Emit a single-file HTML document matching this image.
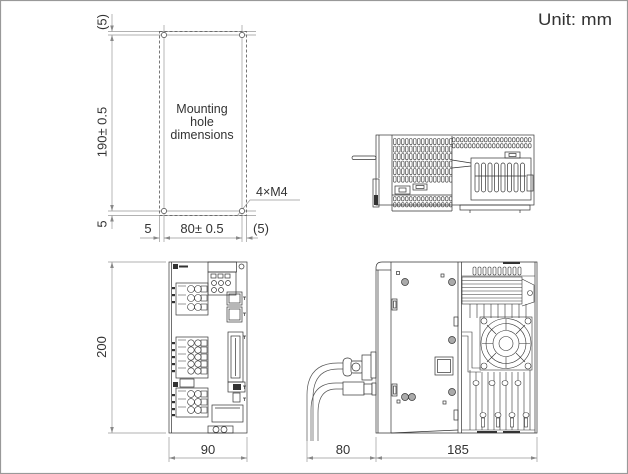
<!DOCTYPE html>
<html><head><meta charset="utf-8">
<style>
html,body{margin:0;padding:0;background:#fff}
svg{display:block}
text{font-family:"Liberation Sans",Arial,sans-serif;fill:#333}
</style></head>
<body>
<svg width="628" height="474" viewBox="0 0 628 474" xmlns="http://www.w3.org/2000/svg">
<defs>
<pattern id="vent" x="393" y="138" width="4" height="7.5" patternUnits="userSpaceOnUse"><rect x="0.5" y="0.5" width="2.6" height="6.2" rx="1.2" fill="none" stroke="#333" stroke-width="0.6"/></pattern>
<pattern id="oval" x="392" y="137" width="4" height="6" patternUnits="userSpaceOnUse"><rect x="0.5" y="0.7" width="2.6" height="4.2" rx="1.2" fill="none" stroke="#333" stroke-width="0.6"/></pattern>
<pattern id="oval2" x="393" y="196" width="4" height="6" patternUnits="userSpaceOnUse"><rect x="0.5" y="0.7" width="2.6" height="4.2" rx="1.2" fill="none" stroke="#333" stroke-width="0.6"/></pattern>
</defs>
<rect x="0.5" y="0.5" width="627" height="473" fill="#fff" stroke="#999" stroke-width="1.2"/>

<text x="538" y="25" font-size="17" textLength="74" lengthAdjust="spacingAndGlyphs">Unit: mm</text>

<!-- ========== Mounting hole dimensions ========== -->
<g stroke="#999" stroke-width="0.7" fill="none">
<line x1="108" y1="31.5" x2="256" y2="31.5"/>
<line x1="108" y1="35" x2="256" y2="35"/>
<line x1="108" y1="211" x2="256" y2="211"/>
<line x1="108" y1="215.5" x2="256" y2="215.5"/>
<line x1="164" y1="25" x2="164" y2="242"/>
<line x1="242" y1="25" x2="242" y2="242"/>
<line x1="159.5" y1="216" x2="159.5" y2="242"/>
<line x1="246.5" y1="216" x2="246.5" y2="242"/>
<line x1="112" y1="14" x2="112" y2="31.5"/>
<line x1="112" y1="35" x2="112" y2="211"/>
<line x1="112" y1="215.5" x2="112" y2="229"/>
<line x1="140" y1="238" x2="159.5" y2="238"/>
<line x1="164" y1="238" x2="242" y2="238"/>
<line x1="246.5" y1="238" x2="258" y2="238"/>
<polyline points="237,216 250,200 300,200"/>
</g>
<g fill="#888">
<polygon points="112,31.5 110.2,25.5 113.8,25.5"/>
<polygon points="112,35 110.2,41 113.8,41"/>
<polygon points="112,211 110.2,205 113.8,205"/>
<polygon points="112,215.5 110.2,221.5 113.8,221.5"/>
<polygon points="159.5,238 153.5,236.2 153.5,239.8"/>
<polygon points="164,238 170,236.2 170,239.8"/>
<polygon points="242,238 236,236.2 236,239.8"/>
<polygon points="246.5,238 252.5,236.2 252.5,239.8"/>
</g>
<rect x="159.5" y="31.5" width="87" height="184" fill="none" stroke="#555" stroke-width="0.8" stroke-dasharray="3,2"/>
<g fill="#fff" stroke="#444" stroke-width="0.7">
<circle cx="164" cy="35" r="2.6"/><circle cx="242" cy="35" r="2.6"/>
<circle cx="164" cy="211" r="2.6"/><circle cx="242" cy="211" r="2.6"/>
</g>
<g font-size="13" text-anchor="middle">
<text transform="translate(106.5,22) rotate(-90)">(5)</text>
<text transform="translate(106.5,132) rotate(-90)">190± 0.5</text>
<text transform="translate(106.5,224) rotate(-90)">5</text>
<text x="148" y="233">5</text>
<text x="202" y="233">80± 0.5</text>
<text x="261" y="233">(5)</text>
</g>
<g font-size="12.5" text-anchor="middle">
<text x="202" y="113">Mounting</text>
<text x="202" y="126">hole</text>
<text x="202" y="139">dimensions</text>
</g>
<text x="256" y="196" font-size="12.5">4×M4</text>

<!-- ========== Top view ========== -->
<g stroke="#333" stroke-width="0.7" fill="none">
<rect x="352" y="156" width="24" height="3.6" rx="1.8"/>
<rect x="376" y="135" width="158" height="70"/>
<line x1="392" y1="135" x2="392" y2="211"/>
<line x1="379" y1="135" x2="379" y2="178"/>
<rect x="393" y="138" width="59" height="45" fill="url(#vent)" stroke="none"/>
<rect x="452" y="137" width="80" height="12" fill="url(#oval)" stroke="none"/>
<line x1="452" y1="136" x2="452" y2="211"/>
<rect x="505" y="152" width="15" height="6"/>
<rect x="509" y="153.5" width="7" height="3"/>
<rect x="471" y="158" width="60" height="42"/>
<rect x="475" y="163" width="4" height="29" rx="2"/>
<rect x="481.5" y="163" width="4" height="29" rx="2"/>
<rect x="488" y="163" width="4" height="29" rx="2"/>
<rect x="494.5" y="163" width="4" height="29" rx="2"/>
<rect x="501" y="163" width="4" height="29" rx="2"/>
<rect x="507.5" y="163" width="4" height="29" rx="2"/>
<rect x="514" y="163" width="4" height="29" rx="2"/>
<rect x="520.5" y="163" width="4" height="29" rx="2"/>
<line x1="475" y1="176" x2="526" y2="176"/>
<line x1="452" y1="160" x2="471" y2="163"/>
<line x1="452" y1="168" x2="471" y2="166"/>
<rect x="527" y="175" width="6" height="16"/>
<rect x="395" y="186" width="15" height="8"/>
<rect x="399" y="188" width="7" height="4"/>
<rect x="413" y="184" width="14" height="6"/>
<rect x="416" y="185.5" width="8" height="3"/>
<rect x="393" y="196" width="59" height="12" fill="url(#oval2)" stroke="none"/>
<line x1="392" y1="195" x2="452" y2="195"/>
<line x1="392" y1="211" x2="452" y2="211"/>
<rect x="460" y="205" width="70" height="5"/>
<line x1="470" y1="210" x2="470" y2="213"/>
<line x1="520" y1="210" x2="520" y2="213"/>
<rect x="373" y="179" width="6" height="28"/>
</g>
<rect x="374" y="195" width="4" height="10" fill="#333"/>

<!-- ========== Front view ========== -->
<g stroke="#999" stroke-width="0.7" fill="none">
<line x1="112" y1="262" x2="112" y2="433"/>
<line x1="108" y1="262" x2="166" y2="262"/>
<line x1="108" y1="433" x2="166" y2="433"/>
<line x1="169" y1="437" x2="169" y2="462"/>
<line x1="247" y1="437" x2="247" y2="462"/>
<line x1="169" y1="458" x2="247" y2="458"/>
</g>
<g fill="#888">
<polygon points="112,262 110.2,268 113.8,268"/>
<polygon points="112,433 110.2,427 113.8,427"/>
<polygon points="169,458 175,456.2 175,459.8"/>
<polygon points="247,458 241,456.2 241,459.8"/>
</g>
<text transform="translate(106,347) rotate(-90)" font-size="13" text-anchor="middle">200</text>
<text x="208" y="454" font-size="13" text-anchor="middle">90</text>

<g stroke="#333" stroke-width="0.7" fill="none">
<rect x="169" y="262" width="78" height="171"/>
<line x1="171.5" y1="262" x2="171.5" y2="433"/>
<rect x="208" y="262" width="28.5" height="10"/>
<rect x="208" y="272" width="28" height="23"/>
<rect x="211" y="274" width="5" height="4"/><rect x="218" y="274" width="5" height="4"/><rect x="225" y="274" width="5" height="4"/>
<circle cx="214" cy="283" r="2.5"/><circle cx="221" cy="283" r="2.5"/><circle cx="228" cy="283" r="2.5"/>
<circle cx="214" cy="290" r="2.5"/><circle cx="221" cy="290" r="2.5"/>
<circle cx="241.5" cy="266.5" r="2.5"/>
<rect x="227" y="292" width="15" height="13"/>
<rect x="229" y="294" width="11" height="9"/>
<rect x="227" y="307" width="15" height="15"/>
<rect x="229" y="309" width="11" height="11"/>
<path d="M243,297 h3 M244.5,297 v3 M243,313 h3 M244.5,313 v3 M243,336 h3 M244.5,336 v3 M243,386 h3 M244.5,386 v3 M243,398 h3 M244.5,398 v3"/>
<rect x="228" y="332" width="15" height="50"/>
<rect x="231" y="336" width="9" height="42"/>
<line x1="235.5" y1="338" x2="235.5" y2="376"/>
<rect x="228" y="382" width="17" height="10"/>
<rect x="233" y="393" width="7" height="9"/>
<rect x="212" y="405" width="31" height="17"/>
<line x1="215" y1="408" x2="240" y2="408"/>
<rect x="208" y="426" width="25" height="7"/>
<circle cx="216" cy="429.5" r="3"/><circle cx="224" cy="429.5" r="3"/>
<rect x="176" y="283" width="32" height="32"/>
<rect x="176" y="337" width="32" height="41"/>
<rect x="176" y="388" width="32" height="29"/>
<rect x="180" y="379" width="14" height="8"/>
</g>
<g fill="#333">
<rect x="233" y="384" width="8" height="6"/>
<rect x="173" y="264" width="5" height="5"/>
<rect x="179" y="265.5" width="9" height="2"/>
<rect x="173" y="382" width="5" height="5"/>
<rect x="172" y="287" width="3" height="2.2"/><rect x="172" y="294" width="3" height="2.2"/><rect x="172" y="301" width="3" height="2.2"/>
<rect x="172" y="342" width="3" height="2.2"/><rect x="172" y="349" width="3" height="2.2"/><rect x="172" y="356" width="3" height="2.2"/><rect x="172" y="363" width="3" height="2.2"/><rect x="172" y="370" width="3" height="2.2"/>
<rect x="172" y="394" width="3" height="2.2"/><rect x="172" y="401" width="3" height="2.2"/><rect x="172" y="408" width="3" height="2.2"/><rect x="172" y="414" width="3" height="2.2"/>
</g>
<!-- terminal rows -->
<g stroke="#333" stroke-width="0.6" fill="none">
<path d="M178,286 h8 M178,295 h8 M178,304 h8"/>
<circle cx="191" cy="289" r="3.5"/><circle cx="198" cy="289" r="3.5"/><rect x="201" y="286" width="6" height="6"/>
<circle cx="191" cy="298" r="3.5"/><circle cx="198" cy="298" r="3.5"/><rect x="201" y="295" width="6" height="6"/>
<circle cx="191" cy="307" r="3.5"/><circle cx="198" cy="307" r="3.5"/><rect x="201" y="304" width="6" height="6"/>
<path d="M178,340 h8 M178,347 h8 M178,354 h8 M178,361 h8 M178,368 h8"/>
<circle cx="191" cy="343" r="3.2"/><circle cx="198" cy="343" r="3.2"/><rect x="201" y="340" width="6" height="6"/>
<circle cx="191" cy="350" r="3.2"/><circle cx="198" cy="350" r="3.2"/><rect x="201" y="347" width="6" height="6"/>
<circle cx="191" cy="357" r="3.2"/><circle cx="198" cy="357" r="3.2"/><rect x="201" y="354" width="6" height="6"/>
<circle cx="191" cy="364" r="3.2"/><circle cx="198" cy="364" r="3.2"/><rect x="201" y="361" width="6" height="6"/>
<circle cx="191" cy="371" r="3.2"/><circle cx="198" cy="371" r="3.2"/><rect x="201" y="368" width="6" height="6"/>
<path d="M178,391 h8 M178,399 h8 M178,407 h8"/>
<circle cx="191" cy="394" r="3.4"/><circle cx="198" cy="394" r="3.4"/><rect x="201" y="391" width="6" height="6"/>
<circle cx="191" cy="402" r="3.4"/><circle cx="198" cy="402" r="3.4"/><rect x="201" y="399" width="6" height="6"/>
<circle cx="191" cy="410" r="3.4"/><circle cx="198" cy="410" r="3.4"/><rect x="201" y="407" width="6" height="6"/>
</g>

<!-- ========== Side view ========== -->
<g stroke="#999" stroke-width="0.7" fill="none">
<line x1="307" y1="441" x2="307" y2="462"/>
<line x1="376" y1="437" x2="376" y2="462"/>
<line x1="537" y1="437" x2="537" y2="462"/>
<line x1="307" y1="458" x2="537" y2="458"/>
</g>
<g fill="#888">
<polygon points="307,458 313,456.2 313,459.8"/>
<polygon points="376,458 370,456.2 370,459.8"/>
<polygon points="376,458 382,456.2 382,459.8"/>
<polygon points="537,458 531,456.2 531,459.8"/>
</g>
<text x="343" y="454" font-size="13" text-anchor="middle">80</text>
<text x="458" y="454" font-size="13" text-anchor="middle">185</text>

<!-- cables -->
<g stroke="#555" stroke-width="0.7" fill="none">
<path d="M307,441 V395 Q307,363 338,363 H345"/>
<path d="M313,441 V398 Q313,369 338,369 H345"/>
<path d="M311,441 V410 Q311,383 336,383 H345"/>
<path d="M318,441 V413 Q318,389 336,389 H345"/>
</g>
<g stroke="#333" stroke-width="0.7" fill="#fff">
<rect x="343" y="358" width="9" height="18" rx="4"/>
<rect x="351" y="361" width="12" height="12" rx="2"/>
<circle cx="356" cy="367" r="4"/>
<rect x="362" y="355" width="10" height="25"/>
<rect x="343" y="382" width="21" height="13"/>
<rect x="364" y="384" width="8" height="10"/>
<rect x="371" y="352" width="5" height="26"/>
<rect x="372" y="383" width="4" height="12"/>
</g>

<g stroke="#333" stroke-width="0.7" fill="none">
<path d="M376,433 V268 Q376,262 382,262 H537 V433 H460 L391,433 Z"/>
<line x1="378" y1="270" x2="378" y2="433"/>
<line x1="376" y1="270" x2="391" y2="270"/>
<line x1="391" y1="262" x2="391" y2="433"/>
<line x1="458" y1="262" x2="458" y2="433"/>
<line x1="461.5" y1="262" x2="461.5" y2="433"/>
<line x1="391" y1="433" x2="458" y2="430"/>
<rect x="396.5" y="271.5" width="3" height="3"/>
<rect x="441" y="274" width="3" height="3"/>
<rect x="392" y="299" width="5" height="11"/>
<rect x="393.5" y="301" width="2.5" height="7"/>
<rect x="392" y="384" width="5" height="12"/>
<rect x="393.5" y="386" width="2.5" height="8"/>
<rect x="435" y="357" width="18" height="18"/>
<rect x="437.5" y="359.5" width="13" height="13"/>
<rect x="397" y="400" width="3" height="3"/>
<rect x="443" y="401" width="3" height="3"/>
<rect x="454" y="317" width="4" height="9"/>
<rect x="454" y="410" width="4" height="10"/>
<line x1="535" y1="262" x2="535" y2="433"/>
</g>
<g stroke="#333" stroke-width="0.7" fill="#aaa">
<circle cx="405" cy="282" r="3.5"/>
<circle cx="452" cy="282" r="3.5"/>
<circle cx="452" cy="340" r="3.5"/>
<circle cx="452" cy="392" r="3.5"/>
<circle cx="405" cy="397" r="3.5"/>
<circle cx="412" cy="397" r="3.5"/>
</g>

<!-- heatsink -->
<g stroke="#333" stroke-width="0.6" fill="none">
<rect x="473" y="267" width="3" height="8" rx="1.2"/><rect x="478" y="267" width="3" height="8" rx="1.2"/><rect x="483" y="267" width="3" height="8" rx="1.2"/><rect x="488" y="267" width="3" height="8" rx="1.2"/><rect x="493" y="267" width="3" height="8" rx="1.2"/><rect x="498" y="267" width="3" height="8" rx="1.2"/><rect x="503" y="267" width="3" height="8" rx="1.2"/><rect x="508" y="267" width="3" height="8" rx="1.2"/><rect x="513" y="267" width="3" height="8" rx="1.2"/><rect x="518" y="267" width="3" height="8" rx="1.2"/>
<line x1="461.5" y1="276" x2="535" y2="276"/>
<rect x="462" y="277" width="60" height="27"/>
<path d="M462,280.5 H522 M462,284 H522 M462,287.5 H522 M462,291 H522 M462,294.5 H522 M462,298 H522 M462,301 H522"/>
<path d="M522,279 L534,285 V302 L522,306"/>
<circle cx="530" cy="293" r="2.5"/>
<path d="M470,304 V318 M477,304 V318 M484,304 V318 M491,304 V318 M498,304 V318 M505,304 V318 M512,304 V318 M519,304 V318 M526,304 V318"/>
<rect x="480" y="317" width="52" height="53"/>
<circle cx="484" cy="321" r="3"/><circle cx="528" cy="321" r="3"/><circle cx="484" cy="366" r="3"/><circle cx="528" cy="366" r="3"/>
<circle cx="506" cy="343.5" r="25"/>
<circle cx="506" cy="343.5" r="20"/>
<circle cx="506" cy="343.5" r="13"/>
<circle cx="506" cy="343.5" r="7"/>
<path d="M487,325 L496,334 M525,325 L516,334 M487,362 L496,353 M525,362 L516,353 M506,319 V330 M506,357 V368 M482,343.5 H493 M519,343.5 H530"/>
<path d="M462,332 H472 V368 H481 M462,336 H468 V372 H481"/>
<path d="M470,370 V430 M476,372 V430 M482,372 V430 M488,372 V430 M494,372 V430 M500,372 V430 M506,372 V430 M512,372 V430 M518,372 V430 M524,372 V430 M530,370 V430"/>
<line x1="462" y1="430" x2="535" y2="430"/>
</g>
<g stroke="#333" stroke-width="0.6" fill="#fff">
<ellipse cx="476" cy="383" rx="3" ry="2.5"/><ellipse cx="492" cy="383" rx="3" ry="2.5"/><ellipse cx="505" cy="383" rx="3" ry="2.5"/><ellipse cx="518" cy="383" rx="3" ry="2.5"/>
<ellipse cx="483" cy="415" rx="3" ry="2.5"/><ellipse cx="498" cy="415" rx="3" ry="2.5"/><ellipse cx="512" cy="415" rx="3" ry="2.5"/><ellipse cx="526" cy="415" rx="3" ry="2.5"/>
<rect x="481.5" y="418" width="3" height="9"/><rect x="496.5" y="418" width="3" height="9"/><rect x="510.5" y="418" width="3" height="9"/><rect x="524.5" y="418" width="3" height="9"/>
</g>
<g fill="#333">
<rect x="503" y="262" width="17" height="2"/>
<rect x="503" y="431" width="17" height="2"/>
<rect x="477" y="431" width="20" height="2"/>
</g>
</svg>
</body></html>
